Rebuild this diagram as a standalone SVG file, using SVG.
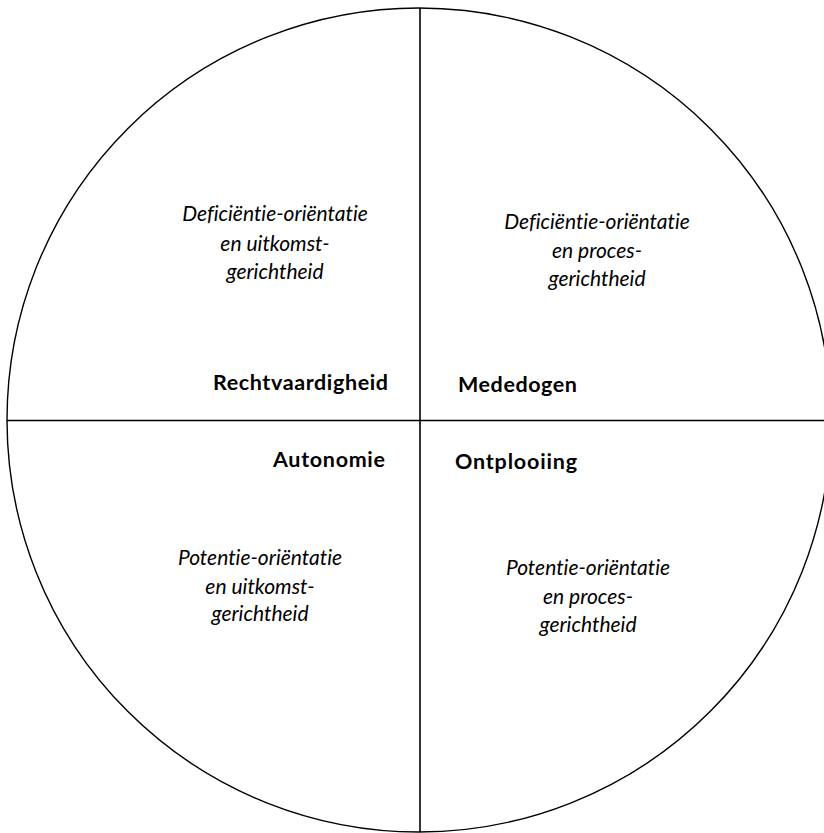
<svg xmlns="http://www.w3.org/2000/svg" width="824" height="833" viewBox="0 0 824 833">
  <style>
    .frame { fill: none; stroke: #000; stroke-width: 1.4; }
    .axis { stroke: #000; stroke-width: 1.6; }
    text { font-family: Lato, "Open Sans", "DejaVu Sans", sans-serif; font-variant-ligatures: none; fill: #000; }
    .desc { font-style: italic; font-size: 21px; text-anchor: middle; }
    .value { font-weight: bold; font-size: 21.5px; }
  </style>
  <rect width="824" height="833" fill="#fff"/>

  <!-- outer circle and quadrant axes -->
  <g id="connectors">
    <circle class="frame" cx="419" cy="420" r="412"/>
    <line class="axis" x1="420" y1="8" x2="420" y2="832"/>
    <line class="axis" x1="7" y1="420.5" x2="824" y2="420.5"/>
  </g>

  <!-- top-left quadrant -->
  <g id="q-rechtvaardigheid">
    <text class="desc" x="275" y="221">Deficiëntie-oriëntatie</text>
    <text class="desc" x="275" y="251">en uitkomst-</text>
    <text class="desc" x="275" y="279">gerichtheid</text>
    <text class="value" x="213" y="390" textLength="175" lengthAdjust="spacing">Rechtvaardigheid</text>
  </g>

  <!-- top-right quadrant -->
  <g id="q-mededogen">
    <text class="desc" x="597" y="229">Deficiëntie-oriëntatie</text>
    <text class="desc" x="597" y="258">en proces-</text>
    <text class="desc" x="597" y="286">gerichtheid</text>
    <text class="value" x="458" y="392" textLength="119" lengthAdjust="spacing">Mededogen</text>
  </g>

  <!-- bottom-left quadrant -->
  <g id="q-autonomie">
    <text class="desc" x="260" y="565">Potentie-oriëntatie</text>
    <text class="desc" x="260" y="594">en uitkomst-</text>
    <text class="desc" x="260" y="621">gerichtheid</text>
    <text class="value" x="273" y="467" textLength="112" lengthAdjust="spacing">Autonomie</text>
  </g>

  <!-- bottom-right quadrant -->
  <g id="q-ontplooiing">
    <text class="desc" x="588" y="575">Potentie-oriëntatie</text>
    <text class="desc" x="588" y="604">en proces-</text>
    <text class="desc" x="588" y="632">gerichtheid</text>
    <text class="value" x="455" y="469" textLength="122" lengthAdjust="spacing">Ontplooiing</text>
  </g>
</svg>
